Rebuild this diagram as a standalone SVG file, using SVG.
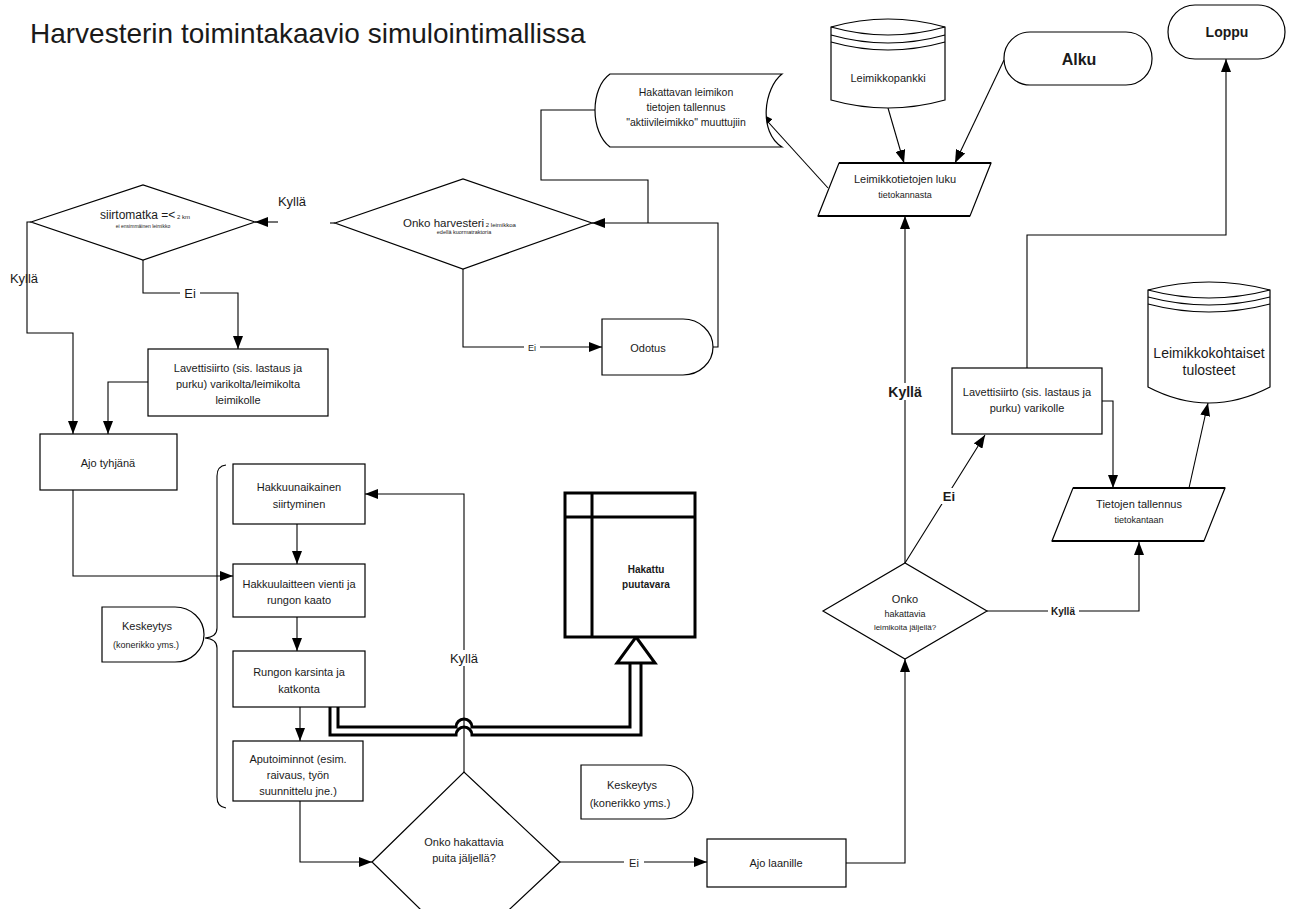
<svg xmlns="http://www.w3.org/2000/svg" width="1295" height="909" viewBox="0 0 1295 909">
<defs>
<marker id="ah" markerUnits="userSpaceOnUse" markerWidth="14" markerHeight="10" refX="13" refY="5" orient="auto">
<path d="M0,0 L13,5 L0,10 Z" fill="#000"/>
</marker>
<style>
.s{fill:#fff;stroke:#000;stroke-width:1.2}
.c{fill:none;stroke:#000;stroke-width:1.1}
.a{marker-end:url(#ah)}
text{font-family:"Liberation Sans",Arial,sans-serif;fill:#1a1a1a;text-anchor:middle}
.t11{font-size:11px}
.t9{font-size:9px}
.lb{font-size:13px}
.bd{font-weight:bold}
.bg{fill:#fff;stroke:none}
.thk{fill:none;stroke:#000;stroke-width:3}
</style>
</defs>
<rect width="1295" height="909" fill="#fff"/>
<text x="30" y="43" style="font-size:28px;text-anchor:start">Harvesterin toimintakaavio simulointimallissa</text>

<g id="connectors">
<path class="c a" d="M1004,60 L955,163"/>
<path class="c a" d="M888,108 L904,163"/>
<path class="c a" d="M828,188 L760,113"/>
<path class="c" d="M595,110 H541 V180 H648 V223"/>
<path class="c a" d="M713,347 H718 V223 H592"/>
<path class="c" d="M330,223 H335"/>
<path class="c a" d="M463,269 V347 H602"/>
<path class="c a" d="M278,222 H255"/>
<path class="c a" d="M31,222 H27 V333 H73 V434"/>
<path class="c a" d="M143,260 V293 H238 V349"/>
<path class="c a" d="M148,382 H108 V434"/>
<path class="c a" d="M73,490 V576 H233"/>
<path class="c a" d="M297,524 V564"/>
<path class="c a" d="M297,617 V651"/>
<path class="c a" d="M300,707 V741"/>
<path class="c a" d="M300,801 V862 H372"/>
<path class="c a" d="M464,772 V494 H365"/>
<path class="c a" d="M560,862 H707"/>
<path class="c a" d="M846,863 H905 V659"/>
<path class="c a" d="M905,563 V216"/>
<path class="c a" d="M905,563 L985,435"/>
<path class="c a" d="M987,611 H1139 V542"/>
<path class="c a" d="M1102,401 H1113 V488"/>
<path class="c a" d="M1027,368 V235 H1226 V59"/>
<path class="c a" d="M1189,488 L1208,403"/>
<path class="thk" d="M330,707 V735 H456 A8,8 0 0 1 472,735 H641 V663"/>
<path class="thk" d="M338,707 V727 H456 A8,8 0 0 1 472,727 H630 V663"/>
<polygon points="636,637 655,663 617,663" fill="#fff" stroke="#000" stroke-width="3"/>
<rect class="bg" x="180" y="286" width="20" height="14"/>
<text x="190" y="298" class="lb">Ei</text>
<rect class="bg" x="524" y="341" width="16" height="12"/>
<text x="532" y="351" class="t9">Ei</text>
<rect class="bg" x="446" y="650" width="36" height="16"/>
<text x="464" y="663" class="lb">Kyllä</text>
<rect class="bg" x="624" y="856" width="20" height="14"/>
<text x="634" y="867" class="t11">Ei</text>
<text x="292" y="206" class="lb">Kyllä</text>
<text x="24" y="283" class="lb">Kyllä</text>
<rect class="bg" x="885" y="383" width="40" height="17"/>
<text x="905" y="397" class="bd" style="font-size:14px">Kyllä</text>
<rect class="bg" x="940" y="488" width="20" height="16"/>
<text x="949" y="501" class="bd" style="font-size:13px">Ei</text>
<rect class="bg" x="1048" y="605" width="31" height="13"/>
<text x="1063" y="615" class="bd" style="font-size:10px">Kyllä</text>
</g>

<g id="alku">
<rect class="s" x="1004" y="32" width="148" height="53" rx="26"/>
<text x="1079" y="65" class="bd" style="font-size:16px">Alku</text>
</g>
<g id="loppu">
<rect class="s" x="1168" y="5" width="117" height="54" rx="27"/>
<text x="1227" y="37" class="bd" style="font-size:14px">Loppu</text>
</g>
<g id="leimikkopankki">
<path class="s" d="M831,27 Q888,11 945,27 V100 Q888,116 831,100 Z"/>
<path class="c" d="M831,27 Q888,43 945,27 M831,35 Q888,51 945,35 M831,42 Q888,58 945,42"/>
<text x="888" y="82" class="t11">Leimikkopankki</text>
</g>
<g id="leimikkotietojen">
<polygon class="s" points="839,163 991,163 970,216 818,216"/>
<path d="M839,163 H991 M818,216 H970" stroke="#000" stroke-width="2"/>
<text x="905" y="183" class="t11">Leimikkotietojen luku</text>
<text x="905" y="198" class="t9">tietokannasta</text>
</g>
<g id="hakattavan">
<path class="s" d="M610,74 H782 C764,88 758,132 782,147 H610 C590,132 590,88 610,74 Z"/>
<text x="686" y="96" style="font-size:10.5px">Hakattavan leimikon</text>
<text x="686" y="111" style="font-size:10.5px">tietojen tallennus</text>
<text x="686" y="126" style="font-size:10.5px">"aktiivileimikko" muuttujiin</text>
</g>
<g id="harvesteri">
<polygon class="s" points="335,223 463,179 592,223 463,269"/>
<text x="403" y="227" style="font-size:11.5px;text-anchor:start">Onko harvesteri<tspan style="font-size:6px"> 2 leimikkoa</tspan></text>
<text x="464" y="234" style="font-size:5.5px">edellä kuormatraktoria</text>
</g>
<g id="odotus">
<path class="s" d="M602,319 H683 A30,28 0 0 1 683,375 H602 Z"/>
<text x="648" y="352" class="t11">Odotus</text>
</g>
<g id="siirtomatka">
<polygon class="s" points="31,222 143,185 255,222 143,260"/>
<text x="100" y="219" style="font-size:12px;text-anchor:start">siirtomatka =&lt;<tspan style="font-size:6px"> 2 km</tspan></text>
<text x="143" y="228" style="font-size:5px">ei ensimmäinen leimikko</text>
</g>
<g id="lavettisiirto1">
<rect class="s" x="148" y="349" width="180" height="67"/>
<text x="238" y="372" class="t11">Lavettisiirto (sis. lastaus ja</text>
<text x="238" y="388" class="t11">purku) varikolta/leimikolta</text>
<text x="238" y="404" class="t11">leimikolle</text>
</g>
<g id="ajotyhjana">
<rect class="s" x="40" y="434" width="137" height="56"/>
<text x="108" y="467" class="t11">Ajo tyhjänä</text>
</g>
<g id="brace">
<path class="c" d="M226,465 Q217,466 217,476 V628 Q217,637 205,638 Q217,639 217,648 V797 Q217,807 226,808"/>
</g>
<g id="keskeytys1">
<path class="s" d="M102,607 H175 A29,27.5 0 0 1 175,662 H102 Z"/>
<text x="147" y="630" class="t11">Keskeytys</text>
<text x="146" y="648" class="t9">(konerikko yms.)</text>
</g>
<g id="hakkuunaikainen">
<rect class="s" x="233" y="464" width="132" height="60"/>
<text x="299" y="491" class="t11">Hakkuunaikainen</text>
<text x="299" y="508" class="t11">siirtyminen</text>
</g>
<g id="hakkuulaitteen">
<rect class="s" x="233" y="564" width="132" height="53"/>
<text x="299" y="588" class="t11">Hakkuulaitteen vienti ja</text>
<text x="299" y="604" class="t11">rungon kaato</text>
</g>
<g id="rungon">
<rect class="s" x="233" y="651" width="132" height="56"/>
<text x="299" y="676" class="t11">Rungon karsinta ja</text>
<text x="299" y="693" class="t11">katkonta</text>
</g>
<g id="aputoiminnot">
<rect class="s" x="233" y="741" width="130" height="60"/>
<text x="298" y="763" class="t11">Aputoiminnot (esim.</text>
<text x="298" y="779" class="t11">raivaus, työn</text>
<text x="298" y="795" class="t11">suunnittelu jne.)</text>
</g>
<g id="hakattu">
<rect x="565" y="493" width="130" height="144" fill="#fff" stroke="#000" stroke-width="3"/>
<path class="thk" d="M565,517 H695 M592,493 V637"/>
<text x="646" y="573" class="bd" style="font-size:10px">Hakattu</text>
<text x="646" y="588" class="bd" style="font-size:10px">puutavara</text>
</g>
<g id="keskeytys2">
<path class="s" d="M581,765 H665 A28,27 0 0 1 665,819 H581 Z"/>
<text x="632" y="789" class="t11">Keskeytys</text>
<text x="630" y="807" class="t11">(konerikko yms.)</text>
</g>
<g id="puita">
<polygon class="s" points="372,862 464,772 560,862 464,952"/>
<text x="464" y="846" class="t11">Onko hakattavia</text>
<text x="464" y="862" class="t11">puita jäljellä?</text>
</g>
<g id="ajolaanille">
<rect class="s" x="707" y="839" width="139" height="48"/>
<text x="776" y="867" class="t11">Ajo laanille</text>
</g>
<g id="leimikoita">
<polygon class="s" points="823,611 905,563 987,611 905,659"/>
<text x="905" y="603" class="t11">Onko</text>
<text x="905" y="617" class="t9">hakattavia</text>
<text x="905" y="630" style="font-size:8px">leimikoita jäljellä?</text>
</g>
<g id="lavettisiirto2">
<rect class="s" x="952" y="368" width="150" height="66"/>
<text x="1027" y="396" class="t11">Lavettisiirto (sis. lastaus ja</text>
<text x="1027" y="412" class="t11">purku) varikolle</text>
</g>
<g id="tietojen">
<polygon class="s" points="1073,488 1225,488 1204,541 1052,541"/>
<path d="M1073,488 H1225 M1052,541 H1204" stroke="#000" stroke-width="2"/>
<text x="1139" y="508" class="t11">Tietojen tallennus</text>
<text x="1139" y="523" class="t9">tietokantaan</text>
</g>
<g id="leimikkokohtaiset">
<path class="s" d="M1148,290 Q1209,274 1270,290 V387 Q1209,419 1148,387 Z"/>
<path class="c" d="M1148,290 Q1209,306 1270,290 M1148,297 Q1209,313 1270,297 M1148,304 Q1209,320 1270,304"/>
<text x="1209" y="358" style="font-size:14px">Leimikkokohtaiset</text>
<text x="1209" y="375" style="font-size:14px">tulosteet</text>
</g>
</svg>
